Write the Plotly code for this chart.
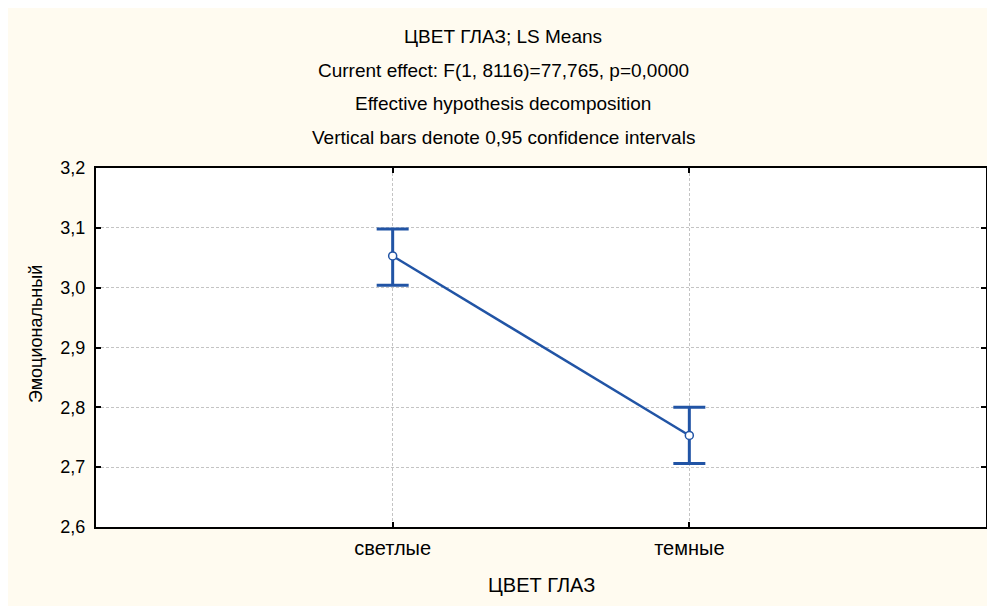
import plotly.graph_objects as go

categories = ["светлые", "темные"]
means = [3.053, 2.753]
ci_upper = [3.098, 2.800]
ci_lower = [3.004, 2.706]
y_ticks = [2.6, 2.7, 2.8, 2.9, 3.0, 3.1, 3.2]

title_lines = [
    "ЦВЕТ ГЛАЗ; LS Means",
    "Current effect: F(1, 8116)=77,765, p=0,0000",
    "Effective hypothesis decomposition",
    "Vertical bars denote 0,95 confidence intervals",
]
x_title = "ЦВЕТ ГЛАЗ"
y_title = "Эмоциональный"

BLUE = "#2154A5"
CREAM = "#FFFBF0"
FONT = "Liberation Sans, Arial, sans-serif"

W, H = 1003, 614
L, R, T, B = 88, 25, 160, 95
PW, PH = W - L - R, H - T - B


def px(xf):
    return (xf - L) / PW


def py(yf):
    return 1 + (T - yf) / PH


xpos = list(range(len(categories)))
err_plus = [u - m for u, m in zip(ci_upper, means)]
err_minus = [m - l for m, l in zip(means, ci_lower)]

fig = go.Figure()
fig.add_trace(go.Scatter(
    x=xpos, y=means,
    mode="lines+markers",
    line=dict(color=BLUE, width=2.5),
    marker=dict(size=8, color="white", line=dict(color=BLUE, width=1.5)),
    error_y=dict(type="data", symmetric=False, array=err_plus, arrayminus=err_minus,
                 color=BLUE, thickness=3, width=16),
    showlegend=False,
    hoverinfo="skip",
))

title_y = [28, 62, 95, 130]
for txt, yp in zip(title_lines, title_y):
    fig.add_annotation(text=txt, xref="paper", yref="paper",
                       x=px(495), y=py(yp),
                       xanchor="center", yanchor="middle", showarrow=False,
                       font=dict(family=FONT, size=19, color="black"))

fig.add_annotation(text=x_title, xref="paper", yref="paper",
                   x=px(533), y=py(577), xanchor="center", yanchor="middle",
                   showarrow=False, font=dict(family=FONT, size=20, color="black"))
fig.add_annotation(text=y_title, xref="paper", yref="paper",
                   x=px(28), y=py(326), xanchor="center", yanchor="middle",
                   textangle=-90, showarrow=False,
                   font=dict(family=FONT, size=18, color="black"))

fig.update_layout(
    width=W, height=H,
    margin=dict(l=L, r=R, t=T, b=B),
    paper_bgcolor=CREAM,
    plot_bgcolor="white",
    separators=", ",
    font=dict(family=FONT, size=18, color="black"),
    xaxis=dict(
        range=[-1, 2],
        tickmode="array", tickvals=xpos, ticktext=categories,
        ticks="inside", ticklen=5, tickwidth=1.5, tickcolor="black",
        showline=True, linecolor="black", linewidth=2, mirror="ticks",
        showgrid=True, gridcolor="#C4C4C4", griddash="3px,2px", gridwidth=1,
        zeroline=False,
        tickfont=dict(size=20),
        ticklabelstandoff=2,
    ),
    yaxis=dict(
        range=[2.6, 3.2],
        tickmode="array", tickvals=y_ticks,
        tickformat=".1f",
        ticks="inside", ticklen=5, tickwidth=2, tickcolor="black",
        showline=True, linecolor="black", linewidth=2, mirror="ticks",
        showgrid=True, gridcolor="#C4C4C4", griddash="3px,2px", gridwidth=1,
        zeroline=False,
        tickfont=dict(size=18),
        ticklabelstandoff=5,
    ),
)

fig.write_html(
    "out.html",
    post_script="document.documentElement.style.overflow='hidden';document.body.style.overflow='hidden';",
)
